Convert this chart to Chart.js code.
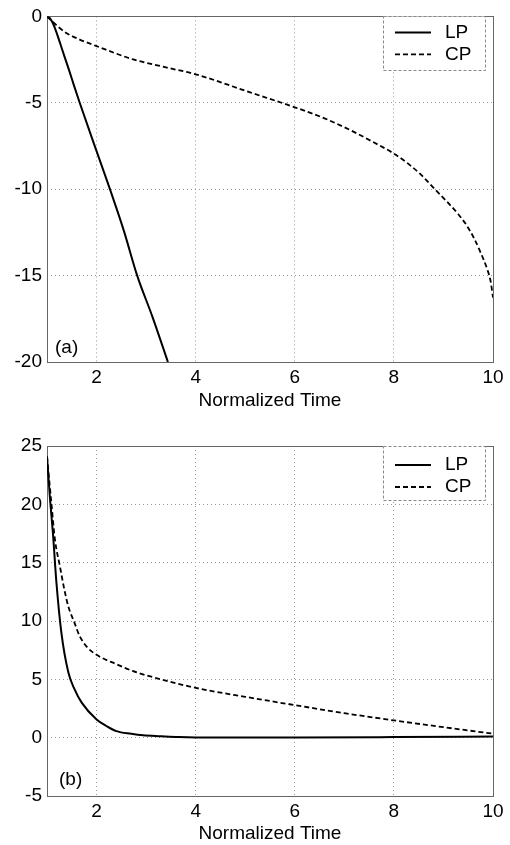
<!DOCTYPE html>
<html>
<head>
<meta charset="utf-8">
<script src="https://cdn.jsdelivr.net/npm/chart.js@4"></script>
<style>
  html, body { margin: 0; padding: 0; background: #fff; }
  body { width: 510px; height: 845px; position: relative; overflow: hidden; }
  canvas { position: absolute; left: 0; }
</style>
</head>
<body>
<canvas id="ca" width="510" height="412" style="top:0px"></canvas>
<canvas id="cb" width="510" height="433" style="top:412px"></canvas>
<script>
// ---- Data ----
const xTicks = [2, 4, 6, 8, 10];
const xAxisTitle = 'Normalized Time';
const seriesNames = ['LP', 'CP'];

// Panel (a)
const aYTicks = [0, -5, -10, -15, -20];
const lpAx = [1, 1.05, 1.1, 1.15, 1.2, 1.27, 1.35, 1.45, 1.55, 1.66, 2.0, 2.27, 2.55, 2.82, 3.13, 3.44];
const lpAy = [0, -0.08, -0.3, -0.6, -1.0, -1.6, -2.3, -3.15, -4.05, -5.0, -7.8, -10.0, -12.4, -15.0, -17.4, -20.0];
const cpAx = [1, 1.12, 1.25, 1.39, 1.66, 2.0, 2.74, 3.4, 4.0, 5.1, 6.0, 6.6, 7.12, 7.6, 8.0, 8.3, 8.55, 8.8, 9.07, 9.3, 9.47, 9.62, 9.74, 9.88, 9.95, 10];
const cpAy = [0, -0.32, -0.66, -0.96, -1.34, -1.72, -2.49, -2.95, -3.35, -4.4, -5.26, -5.9, -6.58, -7.3, -7.94, -8.55, -9.17, -9.92, -10.72, -11.45, -12.1, -12.85, -13.6, -14.6, -15.3, -16.27];

// Panel (b)
const bYTicks = [25, 20, 15, 10, 5, 0, -5];
const lpBx = [1, 1.06, 1.12, 1.19, 1.29, 1.43, 1.55, 1.7, 2.0, 2.2, 2.4, 2.7, 2.94, 3.3, 3.65, 4, 6, 8, 10];
const lpBy = [24.1, 20.5, 17.5, 13.3, 9.0, 5.6, 4.2, 3.0, 1.56, 1.0, 0.56, 0.33, 0.2, 0.12, 0.05, 0.02, 0.02, 0.05, 0.1];
const cpBx = [1, 1.08, 1.16, 1.26, 1.35, 1.43, 1.55, 1.66, 1.8, 2.0, 2.4, 2.74, 3.3, 4.0, 5, 6, 7, 8, 9, 10];
const cpBy = [24.1, 20.5, 17.0, 14.7, 12.7, 11.25, 9.9, 8.7, 7.8, 7.1, 6.3, 5.7, 5.0, 4.27, 3.5, 2.79, 2.1, 1.48, 0.9, 0.34];

const FONT = "'Liberation Sans', Arial, Helvetica, sans-serif";

function pts(xs, ys) { return xs.map((x, i) => ({ x: x, y: ys[i] })); }

const framePlugin = {
  id: 'frame',
  beforeDatasetsDraw(chart) {
    const { ctx, chartArea: a } = chart;
    ctx.save();
    ctx.strokeStyle = '#666';
    ctx.lineWidth = 1;
    ctx.strokeRect(Math.round(a.left) + 0.5, Math.round(a.top) + 0.5,
                   Math.round(a.right - a.left), Math.round(a.bottom - a.top));
    ctx.restore();
  },
  afterDatasetsDraw(chart, args, opts) {
    const { ctx, chartArea: a } = chart;
    ctx.save();
    // legend box
    const bx0 = a.right - 110, bx1 = a.right - 8, by0 = a.top, by1 = a.top + 54;
    ctx.fillStyle = '#fff';
    ctx.fillRect(bx0, by0, bx1 - bx0, by1 - by0);
    ctx.strokeStyle = '#888';
    ctx.lineWidth = 1;
    ctx.setLineDash([3, 2]);
    ctx.strokeRect(Math.round(bx0) + 0.5, Math.round(by0) + 0.5, Math.round(bx1 - bx0), Math.round(by1 - by0));
    ctx.font = '19px ' + FONT;
    ctx.textBaseline = 'middle';
    ctx.textAlign = 'left';
    ctx.fillStyle = '#000';
    chart.data.datasets.forEach((ds, i) => {
      const y = a.top + opts.rowTop + i * 22;
      ctx.strokeStyle = '#000';
      ctx.lineWidth = ds.borderWidth;
      ctx.setLineDash(ds.borderDash || []);
      ctx.beginPath();
      ctx.moveTo(a.right - 98, y);
      ctx.lineTo(a.right - 62, y);
      ctx.stroke();
      ctx.fillText(ds.label, a.right - 48, y);
    });
    ctx.setLineDash([]);
    // panel label
    ctx.fillText(opts.tag, a.left + opts.tagDx, a.bottom - opts.tagDy);
    ctx.restore();
  }
};

function makeChart(id, lp, cp, yMin, yMax, padTop, xHeight, tag, tagDx, tagDy, rowTop) {
  return new Chart(document.getElementById(id), {
    type: 'line',
    data: {
      datasets: [
        { label: seriesNames[0], data: lp, borderColor: '#000', borderWidth: 2, pointRadius: 0, fill: false, cubicInterpolationMode: 'monotone' },
        { label: seriesNames[1], data: cp, borderColor: '#000', borderWidth: 1.8, borderDash: [5, 3], pointRadius: 0, fill: false, cubicInterpolationMode: 'monotone' }
      ]
    },
    options: {
      responsive: false,
      animation: false,
      events: [],
      layout: { padding: { top: padTop, right: 17, left: 0, bottom: 0 } },
      plugins: {
        legend: { display: false },
        tooltip: { enabled: false },
        frame: { tag: tag, tagDx: tagDx, tagDy: tagDy, rowTop: rowTop }
      },
      scales: {
        x: {
          type: 'linear', min: 1, max: 10,
          afterBuildTicks: s => { s.ticks = xTicks.map(v => ({ value: v })); },
          afterFit: s => { s.height = xHeight; },
          grid: { color: '#999', borderDash: [1, 3], drawTicks: false, lineWidth: 1 },
          border: { display: false, dash: [1, 3] },
          ticks: { color: '#000', font: { family: FONT, size: 19 }, padding: 4, maxRotation: 0 },
          title: { display: true, text: xAxisTitle, color: '#000', font: { family: FONT, size: 19 }, padding: { top: 0, bottom: 0 } }
        },
        y: {
          type: 'linear', min: yMin, max: yMax,
          afterBuildTicks: s => { s.ticks = (yMin < -10 ? aYTicks : bYTicks).map(v => ({ value: v })); },
          afterFit: s => { s.width = 47; },
          grid: { color: '#999', borderDash: [1, 3], drawTicks: false, lineWidth: 1 },
          border: { display: false, dash: [1, 3] },
          ticks: { color: '#000', font: { family: FONT, size: 19 }, padding: 5 }
        }
      }
    },
    plugins: [framePlugin]
  });
}

makeChart('ca', pts(lpAx, lpAy), pts(cpAx, cpAy), -20, 0, 13, 50, '(a)', 8, 14, 16);
makeChart('cb', pts(lpBx, lpBy), pts(cpBx, cpBy), -5, 25, 34, 49, '(b)', 12, 16, 19);
</script>
</body>
</html>
